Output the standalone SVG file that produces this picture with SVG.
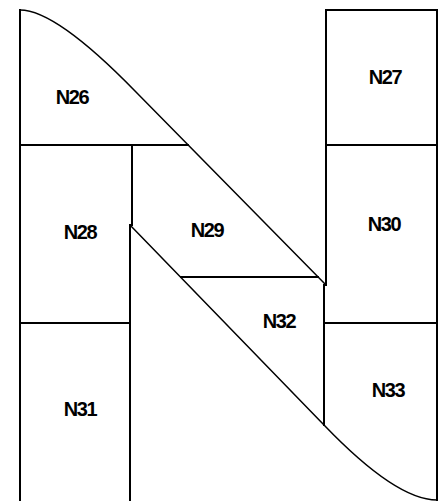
<svg xmlns="http://www.w3.org/2000/svg" width="446" height="501" viewBox="0 0 446 501">
<style>
.edge{fill:none;stroke:#000;stroke-width:2;stroke-linecap:square}
.conn{fill:none;stroke:#000;stroke-width:1.5}
.lbl{font-family:"Liberation Sans",Arial,sans-serif;font-weight:bold;font-size:20px;letter-spacing:-1.4px;text-anchor:middle;fill:#000}
</style>
<rect width="446" height="501" fill="#fff"/>
<g id="N26">
<path class="edge" d="M20,10 L20,145 L188,145"/>
<text class="lbl" x="72" y="104">N26</text>
</g>
<g id="N27">
<rect class="edge" x="326" y="10" width="111" height="135"/>
<text class="lbl" x="385" y="84">N27</text>
</g>
<g id="N28">
<path class="edge" d="M20,145 L20,323 L130,323 M132,145 L132,225 M130,225 L130,323"/>
<text class="lbl" x="80" y="239">N28</text>
</g>
<g id="N29">
<path class="edge" d="M132,145 L188,145 M181,277 L318,277"/>
<text class="lbl" x="207" y="237">N29</text>
</g>
<g id="N30">
<path class="edge" d="M326,145 L437,145 L437,323 L324,323 M326,145 L326,285"/>
<text class="lbl" x="384" y="231">N30</text>
</g>
<g id="N31">
<path class="edge" d="M20,323 L20,501 M130,323 L130,501"/>
<text class="lbl" x="80" y="416">N31</text>
</g>
<g id="N32">
<path class="edge" d="M324,285 L324,425"/>
<text class="lbl" x="279" y="328">N32</text>
</g>
<g id="N33">
<path class="edge" d="M437,323 L437,500"/>
<text class="lbl" x="388" y="397">N33</text>
</g>
<g id="connectors">
<path class="conn" d="M20,10 Q56,10 135,91 L326,285"/>
<path class="conn" d="M130,225 L324,425 Q396,500 437,500"/>
</g>
</svg>
